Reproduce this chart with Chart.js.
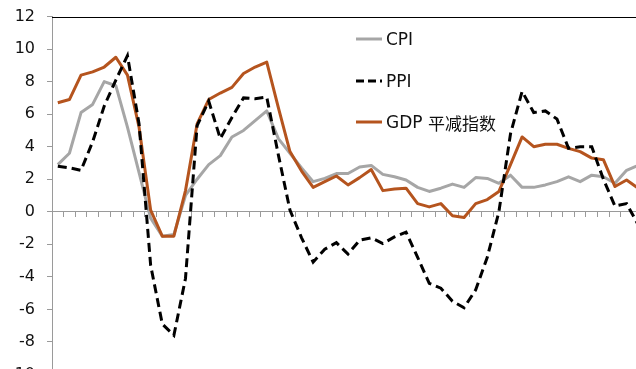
<!DOCTYPE html>
<html><head><meta charset="utf-8">
<script src="https://cdn.jsdelivr.net/npm/chart.js@4/dist/chart.umd.min.js"></script>
<style>
html,body{margin:0;padding:0;background:#fff;overflow:hidden;width:636px;height:369px}
#wrap{position:relative;width:644px;height:401px;margin-top:-5px}
canvas{display:block}
.leg{position:absolute;left:356px;height:22px;display:flex;align-items:center;font:17px "DejaVu Sans",sans-serif;color:#111;white-space:nowrap}
.leg svg{margin-right:4px;display:block}
.cjk{font-family:"Noto Sans CJK SC",sans-serif;font-size:17px}
</style></head>
<body>
<div id="wrap">
<canvas id="c" width="644" height="401"></canvas>
<div class="leg" style="top:33px"><svg width="26" height="4"><line x1="0" y1="2" x2="26" y2="2" stroke="#A6A6A6" stroke-width="3"/></svg>CPI</div>
<div class="leg" style="top:75px"><svg width="26" height="4"><line x1="0" y1="2" x2="26" y2="2" stroke="#000" stroke-width="3" stroke-dasharray="8 4"/></svg>PPI</div>
<div class="leg" style="top:116px"><svg width="26" height="4"><line x1="0" y1="2" x2="26" y2="2" stroke="#B5541E" stroke-width="3"/></svg>GDP&nbsp;<span class="cjk">平减指数</span></div>
</div>
<script>
const categories = ["2007Q1","2007Q2","2007Q3","2007Q4","2008Q1","2008Q2","2008Q3","2008Q4",
"2009Q1","2009Q2","2009Q3","2009Q4","2010Q1","2010Q2","2010Q3","2010Q4",
"2011Q1","2011Q2","2011Q3","2011Q4","2012Q1","2012Q2","2012Q3","2012Q4",
"2013Q1","2013Q2","2013Q3","2013Q4","2014Q1","2014Q2","2014Q3","2014Q4",
"2015Q1","2015Q2","2015Q3","2015Q4","2016Q1","2016Q2","2016Q3","2016Q4",
"2017Q1","2017Q2","2017Q3","2017Q4","2018Q1","2018Q2","2018Q3","2018Q4",
"2019Q1","2019Q2","2019Q3"];
const cpi = [2.9, 3.6, 6.1, 6.6, 8.0, 7.75, 5.2, 2.4, -0.4, -1.5, -1.4, 1.0, 2.0, 2.9, 3.45, 4.6, 5.0, 5.6, 6.2, 4.5, 3.6, 2.7, 1.85, 2.05, 2.35, 2.35, 2.75, 2.85, 2.3, 2.15, 1.95, 1.5, 1.25, 1.45, 1.7, 1.5, 2.1, 2.05, 1.75, 2.25, 1.5, 1.5, 1.65, 1.85, 2.15, 1.85, 2.25, 2.15, 1.75, 2.55, 2.85];
const ppi = [2.8, 2.7, 2.55, 4.3, 6.5, 8.1, 9.6, 5.4, -3.3, -6.9, -7.6, -4.1, 5.3, 6.8, 4.5, 5.8, 7.0, 6.95, 7.05, 3.5, 0.1, -1.6, -3.1, -2.3, -1.9, -2.6, -1.75, -1.6, -1.95, -1.55, -1.25, -2.8, -4.4, -4.7, -5.5, -5.9, -4.8, -2.8, 0.0, 4.8, 7.4, 6.1, 6.2, 5.7, 3.9, 4.0, 4.0, 2.0, 0.35, 0.5, -0.8];
const gdpDeflator = [6.7, 6.9, 8.4, 8.6, 8.9, 9.5, 8.4, 5.2, 0.1, -1.5, -1.5, 1.3, 5.4, 6.9, 7.3, 7.65, 8.5, 8.9, 9.2, 6.4, 3.7, 2.5, 1.5, 1.85, 2.2, 1.65, 2.1, 2.6, 1.3, 1.4, 1.45, 0.5, 0.3, 0.5, -0.25, -0.35, 0.5, 0.75, 1.25, 2.9, 4.6, 4.0, 4.15, 4.15, 3.9, 3.7, 3.3, 3.2, 1.55, 1.95, 1.45];
const yMin = -10, yMax = 12, yStep = 2;

const topBorder = {
  id: 'topBorder',
  afterDraw(chart) {
    const {ctx, chartArea} = chart;
    ctx.save();
    ctx.strokeStyle = '#000';
    ctx.lineWidth = 1;
    ctx.beginPath();
    ctx.moveTo(chartArea.left, Math.round(chartArea.top) + 0.5);
    ctx.lineTo(chartArea.right, Math.round(chartArea.top) + 0.5);
    ctx.stroke();
    ctx.restore();
  }
};

new Chart(document.getElementById('c'), {
  type: 'line',
  data: {
    labels: categories,
    datasets: [
      {label: 'CPI', data: cpi, borderColor: '#A6A6A6', borderWidth: 3, pointRadius: 0, tension: 0, order: 2, borderJoinStyle: 'round'},
      {label: 'PPI', data: ppi, borderColor: '#000000', borderWidth: 3, borderDash: [9, 5], pointRadius: 0, tension: 0, order: 0},
      {label: 'GDP 平减指数', data: gdpDeflator, borderColor: '#B5541E', borderWidth: 3, pointRadius: 0, tension: 0, order: 1, borderJoinStyle: 'round'}
    ]
  },
  options: {
    responsive: false,
    devicePixelRatio: 1,
    animation: false,
    layout: {padding: {top: 0, bottom: 0, left: 0, right: 0}},
    plugins: {legend: {display: false}, tooltip: {enabled: false}},
    scales: {
      x: {
        type: 'category',
        offset: true,
        position: {y: 0},
        grid: {display: true, drawOnChartArea: false, drawTicks: true, tickLength: 5, color: '#9a9a9a', offset: true},
        ticks: {display: false},
        border: {display: true, color: '#9a9a9a', width: 1},
        afterFit(scale) { scale.height = 0; }
      },
      y: {
        min: yMin, max: yMax,
        ticks: {stepSize: yStep, color: '#111', padding: 12, font: {family: 'DejaVu Sans', size: 16}},
        grid: {drawOnChartArea: false, drawTicks: true, tickLength: 5, color: '#9a9a9a'},
        border: {color: '#9a9a9a', width: 1},
        afterFit(scale) { scale.width = 52; }
      }
    }
  },
  plugins: [topBorder]
});
</script>
</body></html>
